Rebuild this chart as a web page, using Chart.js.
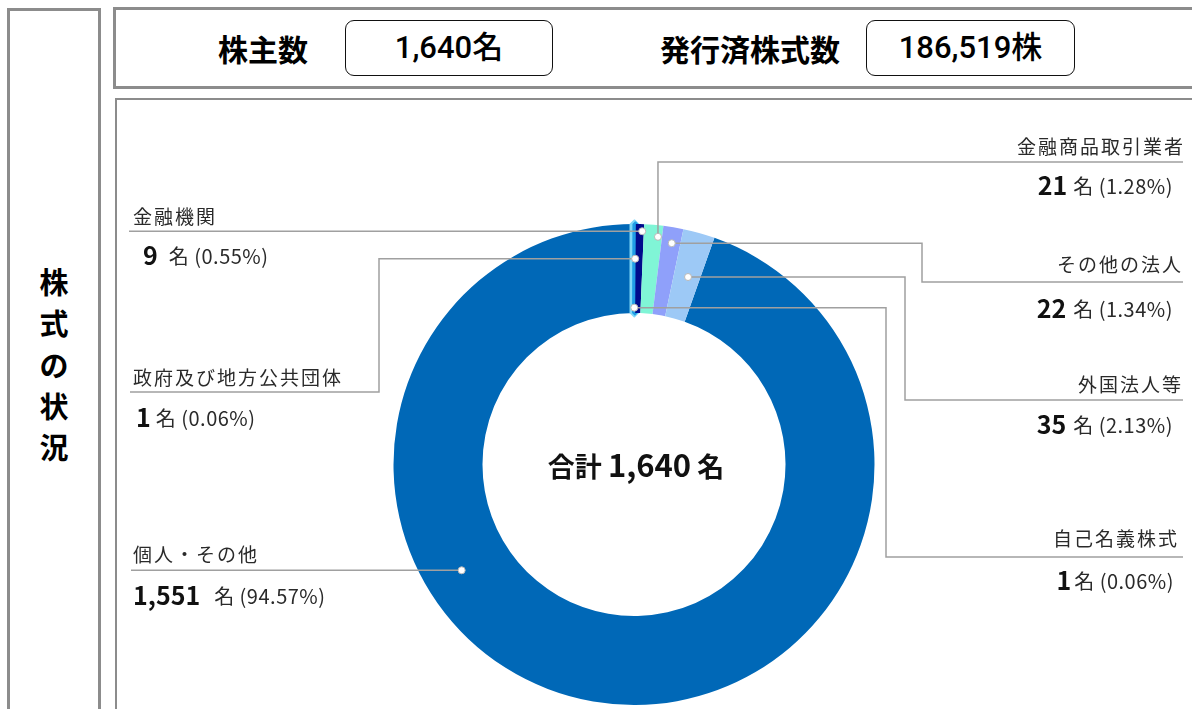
<!DOCTYPE html>
<html lang="ja">
<head>
<meta charset="utf-8">
<script src="https://cdn.jsdelivr.net/npm/chart.js@4/dist/chart.umd.min.js"></script>
<style>
  html, body { margin:0; padding:0; background:#fff; width:1192px; height:709px; overflow:hidden; }
  body { position:relative; font-family:"Noto Sans CJK JP","Noto Sans",sans-serif; }
  .frame { position:absolute; box-sizing:border-box; border:3px solid #8c8c8c; }
  #side { left:7px; top:8px; width:94px; height:740px; }
  #head { left:113px; top:7px; width:1120px; height:82px; }
  #chartbox { left:115px; top:98px; width:1120px; height:700px; border-width:2px; }
  .vt { position:absolute; left:0; width:94px; text-align:center; font-weight:bold; font-size:29px; line-height:29px; color:#000; }
  .hl { position:absolute; font-weight:bold; font-size:30px; top:30px; line-height:36px; transform:translateX(-50%); white-space:nowrap; color:#000; }
  .pill { position:absolute; top:20px; height:56px; box-sizing:border-box; border:1.5px solid #111; border-radius:9px; text-align:center; line-height:54px; font-size:31px; font-weight:500; font-family:Roboto,"Noto Sans CJK JP",sans-serif; color:#000; }
  canvas { position:absolute; left:0; top:0; }
</style>
</head>
<body>
<div class="frame" id="side"></div>
<div class="frame" id="head"></div>
<div class="frame" id="chartbox"></div>
<div class="vt" style="left:7px;top:267px">株</div>
<div class="vt" style="left:7px;top:308px">式</div>
<div class="vt" style="left:7px;top:350px">の</div>
<div class="vt" style="left:7px;top:391px">状</div>
<div class="vt" style="left:7px;top:432px">況</div>
<div class="hl" style="left:263px">株主数</div>
<div class="pill" style="left:345px;width:208px">1,640名</div>
<div class="hl" style="left:750px">発行済株式数</div>
<div class="pill" style="left:866px;width:209px">186,519株</div>
<canvas id="c" width="1192" height="709"></canvas>
<script>
// ---- data ----
const categories = ['自己名義株式','政府及び地方公共団体','金融機関','金融商品取引業者','その他の法人','外国法人等','個人・その他'];
const holders    = [1, 1, 9, 21, 22, 35, 1551];
const percents   = ['0.06%','0.06%','0.55%','1.28%','1.34%','2.13%','94.57%'];
const totalLabel = '1,640';
const colors     = ['#7fd8f8','#1f9ee6','#000c8c','#80f5d6','#8fa0fa','#9dc9f6','#0068b7'];

// ---- layout (positions only) ----
const drawOrder = [6,0,1,2,3,4,5];
const layout = [
  {side:'R', f:0.5, g:0.06, elbowX:886, lineY:557, endX:1183, labelY:539, valueY:580, tx:1177, vx:1174, gap:3},
  {side:'L', f:0.5, g:0.61, elbowX:379, lineY:392, endX:130,  labelY:378, valueY:417, tx:133, vx:136, gap:5},
  {side:'L', f:0.8, g:0.92, endX:129, labelY:217, valueY:255, tx:133, vx:143, gap:11},
  {side:'R', f:0.78, g:0.87, vertical:true, lineY:162, endX:1183, labelY:147, valueY:185, tx:1183, vx:1173, gap:6},
  {side:'R', f:0.55, g:0.82, elbowX:922, lineY:282, endX:1183, labelY:265, valueY:308, tx:1181, vx:1173, gap:7},
  {side:'R', f:0.55, g:0.49, elbowX:905, lineY:400, endX:1183, labelY:385, valueY:424, tx:1181, vx:1173, gap:7},
  {side:'L', f:0.643, g:0.57, endX:131, labelY:555, valueY:595, tx:133, vx:133, gap:14}
];
const extraBorder = [9, 5, 0, 0, 0, 0, 0];

const total = holders.reduce((a,b)=>a+b,0);
const rotation = 360 * (1 - holders[6] / total);

const labelPlugin = {
  id:'labels',
  afterDraw(chart){
    const ctx = chart.ctx;
    const meta = chart.getDatasetMeta(0);
    ctx.save();
    meta.data.forEach((arc, j) => {
      const i = drawOrder[j];
      const L = layout[i];
      const p = arc.getProps(['x','y','startAngle','endAngle','innerRadius','outerRadius'], true);
      const a = p.startAngle + L.f * (p.endAngle - p.startAngle);
      const r = p.innerRadius + L.g * (p.outerRadius - p.innerRadius);
      const dx = p.x + r * Math.cos(a), dy = p.y + r * Math.sin(a);
      let pts;
      if (L.vertical) pts = [[dx,dy],[dx,L.lineY],[L.endX,L.lineY]];
      else if (L.elbowX != null) pts = [[dx,dy],[L.elbowX,dy],[L.elbowX,L.lineY],[L.endX,L.lineY]];
      else pts = [[dx,dy],[L.endX,dy]];
      ctx.strokeStyle = '#a0a0a0';
      ctx.lineWidth = 1.5;
      ctx.beginPath();
      pts.forEach((q,k)=> k ? ctx.lineTo(q[0],q[1]) : ctx.moveTo(q[0],q[1]));
      ctx.stroke();
      ctx.beginPath();
      ctx.arc(dx, dy, 3.5, 0, Math.PI*2);
      ctx.fillStyle = '#ffffff';
      ctx.fill();
      ctx.lineWidth = 1;
      ctx.strokeStyle = '#b8b8b8';
      ctx.stroke();

      // label text
      ctx.fillStyle = '#2a2a2a';
      ctx.textBaseline = 'middle';
      ctx.letterSpacing = '2px';
      ctx.font = '19px "Noto Sans CJK JP"';
      ctx.textAlign = L.side === 'R' ? 'right' : 'left';
      ctx.fillText(categories[i], L.side === 'R' ? L.tx + 2 : L.tx, L.labelY);
      // value text
      const num = holders[i].toLocaleString('en-US');
      const unit = '名 (' + percents[i] + ')';
      ctx.textAlign = 'left';
      const fNum = 'bold 25px "Noto Sans CJK JP"';
      const fUnit = '20px "Noto Sans CJK JP"';
      ctx.letterSpacing = '0px';
      ctx.font = fNum; const wN = ctx.measureText(num).width;
      ctx.letterSpacing = '0.5px';
      ctx.font = fUnit; const wU = ctx.measureText(unit).width;
      const x0 = L.side === 'R' ? L.vx - wN - L.gap - wU : L.vx;
      ctx.fillStyle = '#111';
      ctx.letterSpacing = '0px';
      ctx.font = fNum; ctx.fillText(num, x0, L.valueY);
      ctx.fillStyle = '#2a2a2a';
      ctx.letterSpacing = '0.5px';
      ctx.font = fUnit; ctx.fillText(unit, x0 + wN + L.gap, L.valueY + 1);
    });
    ctx.letterSpacing = '0px';
    // center text
    const c = meta.data[0];
    ctx.fillStyle = '#111';
    ctx.textBaseline = 'middle';
    const t1 = '合計 ', t2 = totalLabel, t3 = ' 名';
    const fa = 'bold 27px "Noto Sans CJK JP"', fb = 'bold 31px "Noto Sans CJK JP"';
    ctx.font = fa; const w1 = ctx.measureText(t1).width, w3 = ctx.measureText(t3).width;
    ctx.font = fb; const w2 = ctx.measureText(t2).width;
    let x = c.x + 2 - (w1+w2+w3)/2;
    ctx.textAlign = 'left';
    ctx.font = fa; ctx.fillText(t1, x, c.y + 2); x += w1;
    ctx.font = fb; ctx.fillText(t2, x, c.y + 1); x += w2;
    ctx.font = fa; ctx.fillText(t3, x, c.y + 2);
    ctx.restore();
  }
};

new Chart(document.getElementById('c'), {
  type:'doughnut',
  data:{
    labels: drawOrder.map(i=>categories[i]),
    datasets:[{
      data: drawOrder.map(i=>holders[i]),
      backgroundColor: drawOrder.map(i=>colors[i]),
      borderColor: drawOrder.map(i=>colors[i]),
      borderWidth: drawOrder.map(i=>extraBorder[i]),
      hoverOffset:0
    }]
  },
  options:{
    responsive:false,
    animation:false,
    rotation: rotation,
    radius: 240.5,
    cutout: '63%',
    layout:{ padding:{ left:400, right:324, top:230, bottom:10 } },
    plugins:{ legend:{display:false}, tooltip:{enabled:false} },
    events:[]
  },
  plugins:[labelPlugin]
});
</script>
</body>
</html>
